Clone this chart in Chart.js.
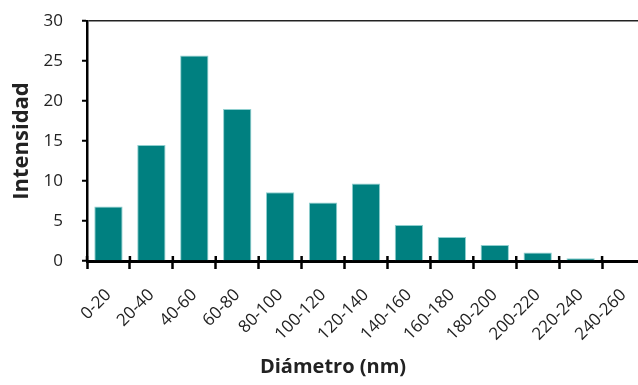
<!DOCTYPE html>
<html>
<head>
<meta charset="utf-8">
<script src="https://cdn.jsdelivr.net/npm/chart.js@4.4.0/dist/chart.umd.min.js"></script>
<style>
  html, body { margin: 0; padding: 0; background: #fff; }
  #wrap { width: 638px; height: 385px; overflow: hidden; }
  #box { width: 666px; height: 385px; }
</style>
</head>
<body>
<div id="wrap"><div id="box"><canvas id="myChart"></canvas></div></div>
<script>
// categories (nm ranges) and intensity per range
var rangos = ['0-20','20-40','40-60','60-80','80-100','100-120','120-140',
              '140-160','160-180','180-200','200-220','220-240','240-260'];
var intensidad = [6.8, 14.5, 25.7, 19.0, 8.6, 7.3, 9.7, 4.5, 3.0, 2.0, 1.05, 0.35, 0];
var yTicks = [0, 5, 10, 15, 20, 25, 30];

var fontFam = '"Open Sans", sans-serif';
var txt = '#222';

// little tick marks that go up through the x axis line
var tickUp = {
  id: 'tickUp',
  afterDraw(chart) {
    var x = chart.scales.x, c = chart.ctx;
    c.save();
    c.strokeStyle = '#000';
    c.lineWidth = 2.5;
    for (var i = 0; i <= rangos.length; i++) {
      var px = x.getPixelForValue(i - 0.5);
      c.beginPath();
      c.moveTo(px, x.top);
      c.lineTo(px, x.top - 5);
      c.stroke();
    }
    c.restore();
  }
};

var ctx = document.getElementById('myChart');
var myChart = new Chart(ctx, {
  type: 'bar',
  data: {
    labels: rangos,
    datasets: [{
      data: intensidad,
      backgroundColor: '#008080',
      borderColor: '#8fcfcf',
      borderWidth: 1,
      barPercentage: 0.66,
      categoryPercentage: 1
    }]
  },
  plugins: [tickUp],
  options: {
    responsive: true,
    maintainAspectRatio: false,
    animation: false,
    layout: { padding: { top: 21, right: 21, left: 21, bottom: 0 } },
    plugins: {
      legend: { display: false },
      tooltip: { enabled: false },
      title: {
        display: true,
        position: 'bottom',
        text: 'Diámetro (nm)',
        color: txt,
        font: { family: fontFam, size: 20, weight: 'bold' },
        padding: { top: 4, bottom: 6 }
      }
    },
    scales: {
      x: {
        afterFit(s) { s.height = 90; },
        grid: {
          drawOnChartArea: false,
          tickColor: '#000',
          tickWidth: 2.5,
          tickLength: 8
        },
        border: { color: '#000', width: 3 },
        ticks: {
          color: txt,
          font: { family: fontFam, size: 17 },
          minRotation: 45,
          maxRotation: 45,
          padding: 16,
          autoSkip: false
        }
      },
      y: {
        min: 0,
        max: 30,
        afterFit(s) { s.width = 66; s.paddingTop = 0; s.paddingBottom = 0; },
        afterBuildTicks(s) { s.ticks = yTicks.map(v => ({ value: v })); },
        grid: {
          color: c => c.tick && c.tick.value === 30 ? '#222' : 'rgba(0,0,0,0)',
          lineWidth: 1.5,
          tickColor: '#000',
          tickWidth: 2,
          tickLength: 5
        },
        border: { color: '#000', width: 2.5 },
        ticks: {
          color: txt,
          font: { family: fontFam, size: 17 },
          padding: 19
        },
        title: {
          display: true,
          text: 'Intensidad',
          color: txt,
          font: { family: fontFam, size: 22, weight: 'bold' },
          padding: { top: -12, bottom: 0 }
        }
      }
    }
  }
});
</script>
</body>
</html>
